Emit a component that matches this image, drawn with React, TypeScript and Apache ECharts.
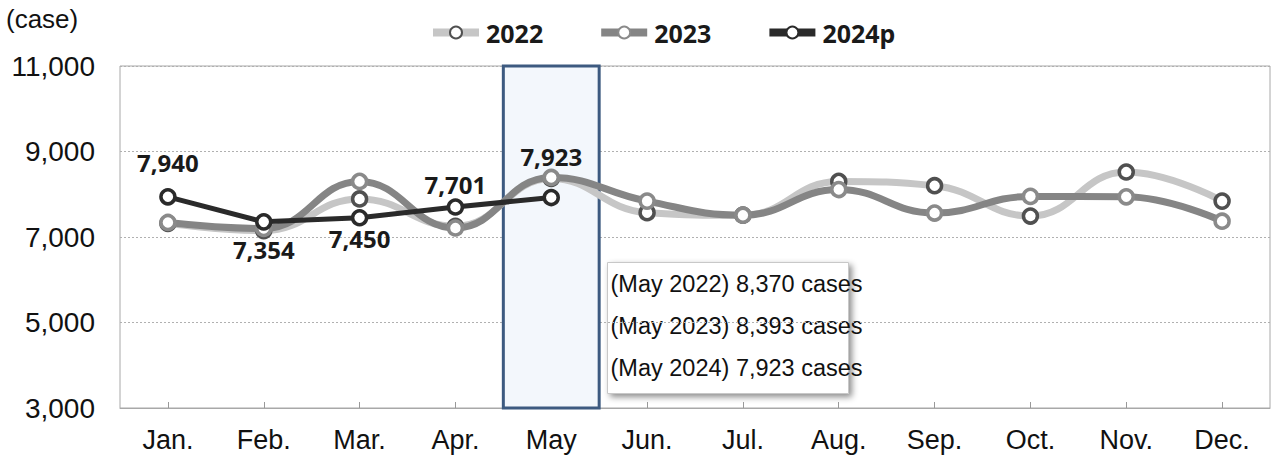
import React, { useEffect, useRef } from "react";
import * as echarts from "echarts";

const months = ["Jan.", "Feb.", "Mar.", "Apr.", "May", "Jun.", "Jul.", "Aug.", "Sep.", "Oct.", "Nov.", "Dec."];
const values2022 = [7320, 7150, 7890, 7250, 8370, 7570, 7510, 8300, 8200, 7490, 8520, 7840];
const values2023 = [7340, 7200, 8300, 7210, 8393, 7840, 7510, 8110, 7560, 7950, 7940, 7370];
const values2024 = [7940, 7354, 7450, 7701, 7923];
const labelPlacement = ["top", "bottom", "bottom", "top", "top"];
const labelDistance = [14, 7, 0, 2, 20];
const highlightIndex = 4;

const fmt = (v: number) => v.toLocaleString("en-US");

export default function App() {
  const ref = useRef<HTMLDivElement>(null);
  useEffect(() => {
    if (!ref.current) return;
    const chart = echarts.init(ref.current, null, { renderer: "svg" });
    const mk = (name: string, data: number[], line: string, border: string, width: number, smooth: boolean | number, z: number) => ({
      name,
      type: "line",
      data,
      smooth,
      z,
      symbol: "circle",
      symbolSize: 14,
      lineStyle: { color: line, width },
      itemStyle: { color: "#fff", borderColor: border, borderWidth: 3.5 },
    });
    const s2024: any = mk("2024p", values2024, "#2a2a2a", "#2a2a2a", 5, false, 5);
    s2024.data = values2024.map((v, i) => ({
      value: v,
      label: {
        show: true,
        position: labelPlacement[i],
        distance: labelDistance[i],
        formatter: () => fmt(v),
        fontFamily: "Noto Sans",
        fontWeight: "bold",
        fontSize: 24,
        color: "#1a1a1a",
      },
    }));
    const lines = [
      `(May 2022) ${fmt(values2022[highlightIndex])} cases`,
      `(May 2023) ${fmt(values2023[highlightIndex])} cases`,
      `(May 2024) ${fmt(values2024[highlightIndex])} cases`,
    ];
    chart.setOption({
      animation: false,
      backgroundColor: "#fff",
      grid: { left: 120, right: 5, top: 66, bottom: 58, show: true, borderColor: "#a8a8a8", borderWidth: 1, outerBoundsMode: "none" },
      legend: {
        left: 424,
        top: 15,
        itemWidth: 46,
        itemHeight: 15,
        itemGap: 54,
        lineStyle: { width: 8 },
        textStyle: { fontFamily: "Noto Sans", fontWeight: "bold", fontSize: 25, color: "#1a1a1a", padding: [0, 0, 0, 2] },
        data: ["2022", "2023", "2024p"],
      },
      xAxis: [
        {
          type: "category",
          data: months,
          boundaryGap: true,
          axisLine: { lineStyle: { color: "#a8a8a8" } },
          axisTick: { show: true, alignWithLabel: true, inside: true, length: 6, lineStyle: { color: "#999" } },
          axisLabel: { fontFamily: "Liberation Sans", fontSize: 27, color: "#111", margin: 18 },
        },
        { type: "value", min: 0, max: 12, show: false },
      ],
      yAxis: {
        type: "value",
        min: 3000,
        max: 11000,
        interval: 2000,
        axisLine: { show: false },
        axisTick: { show: false },
        axisLabel: { fontFamily: "Liberation Sans", fontSize: 28, color: "#111", margin: 25, formatter: (v: number) => fmt(v) },
        splitLine: { show: true, lineStyle: { color: "#b0b0b0", type: [2, 2], width: 1 } },
        name: "(case)",
        nameLocation: "end",
        nameGap: 34,
        nameTextStyle: { fontFamily: "Liberation Sans", fontSize: 26, color: "#111", align: "left", padding: [0, 0, 0, -114] },
      },
      series: [
        {
          type: "line",
          xAxisIndex: 1,
          data: [[0, 3000]],
          symbol: "none",
          lineStyle: { opacity: 0 },
          silent: true,
          z: 1,
          markArea: {
            silent: true,
            itemStyle: { color: "#f3f7fc", borderColor: "#3d5a80", borderWidth: 3 },
            data: [[{ xAxis: highlightIndex }, { xAxis: highlightIndex + 1 }]],
          },
        },
        mk("2022", values2022, "#c6c6c6", "#505050", 7, 0.45, 3),
        mk("2023", values2023, "#858585", "#8a8a8a", 7, 0.45, 4),
        s2024,
      ],
      graphic: [
        {
          type: "group",
          left: 607,
          top: 262,
          z: 100,
          children: [
            {
              type: "rect",
              shape: { x: 0, y: 0, width: 241, height: 131 },
              style: { fill: "#fff", stroke: "#c8c8c8", lineWidth: 1, shadowBlur: 6, shadowOffsetX: 3, shadowOffsetY: 3, shadowColor: "rgba(0,0,0,0.45)" },
            },
            ...lines.map((t, i) => ({
              type: "text",
              x: 3,
              y: 21 + i * 42,
              style: { text: t, fontFamily: "Liberation Sans", fontSize: 23.5, fill: "#111", verticalAlign: "middle", textAlign: "left" },
            })),
          ],
        },
      ],
    });
    return () => chart.dispose();
  }, []);
  return <div ref={ref} style={{ position: "fixed", left: 0, top: 0, width: 1275, height: 466 }} />;
}
